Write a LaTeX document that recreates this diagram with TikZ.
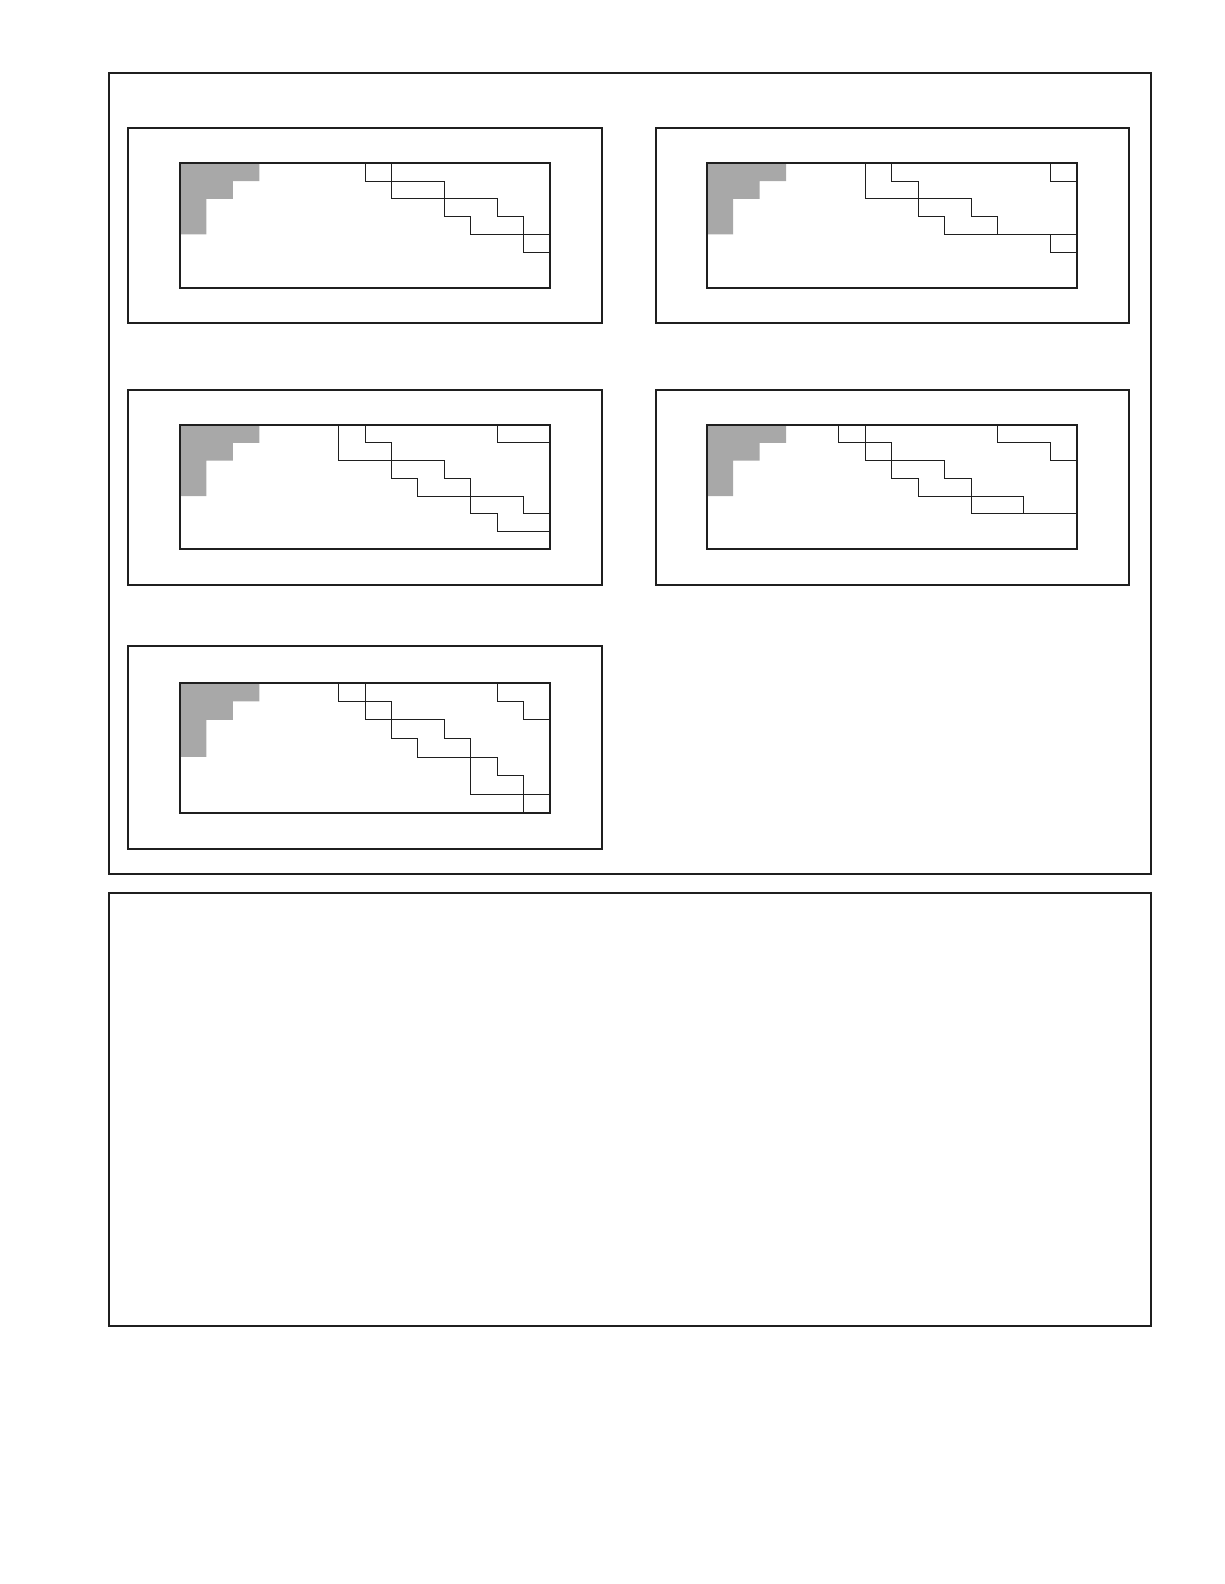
\documentclass[tikz,border=0pt]{standalone}
\begin{document}
\begin{tikzpicture}[
    x=1pt, y=-1pt,
    frame/.style={line width=2pt, draw=black!88}, % Style for the two page frames
    panel/.style={line width=1.8pt, draw=black!88}, % Style for each panel box
    grid box/.style={line width=1.8pt, draw=black!88}, % Style for the table outline
    stair/.style={line width=0.8pt, draw=black!88, line join=miter}, % Style for the staircase lines
    shade/.style={fill=gray!68, draw=none}, % Style for the shaded corner
    cell units/.style={x=26.43pt, y=-17.77pt}, % One unit = one cell
    tall cell units/.style={x=26.43pt, y=-18.57pt}
]
    \useasboundingbox (0,0) rectangle (1224,1584);

    % === Outer frames ===
    \draw[frame] (109,73) rectangle (1151,874.3);
    \draw[frame] (109,893) rectangle (1151,1325.7);

    % ====== PANEL 1 ======
    \draw[panel] (128.3,127.7) rectangle (602.3,323);
    \begin{scope}[shift={(180pt,-163.3pt)}, cell units]
        \fill[shade] (0,0) -- (3,0) -- (3,1) -- (2,1) -- (2,2) -- (1,2) -- (1,4) -- (0,4) -- cycle;
        \draw[stair] (7,0) |- (10,1) |- (11,3) |- (14,4);
        \draw[stair] (8,0) |- (12,2) |- (13,3) |- (14,5);
        \draw[grid box] (0,0) rectangle (14,7);
    \end{scope}

    % ====== PANEL 2 ======
    \draw[panel] (656,127.7) rectangle (1129,323);
    \begin{scope}[shift={(706.7pt,-163.3pt)}, cell units]
        \fill[shade] (0,0) -- (3,0) -- (3,1) -- (2,1) -- (2,2) -- (1,2) -- (1,4) -- (0,4) -- cycle;
        \draw[stair] (6,0) |- (10,2) |- (11,3) |- (14,4);
        \draw[stair] (7,0) |- (8,1) |- (9,3) |- (14,4);
        \draw[stair] (13,0) |- (14,1);
        \draw[stair] (13,4) |- (14,5);
        \draw[grid box] (0,0) rectangle (14,7);
    \end{scope}

    % ====== PANEL 3 ======
    \draw[panel] (128.3,389.7) rectangle (602.3,584.7);
    \begin{scope}[shift={(180pt,-425pt)}, cell units]
        \fill[shade] (0,0) -- (3,0) -- (3,1) -- (2,1) -- (2,2) -- (1,2) -- (1,4) -- (0,4) -- cycle;
        \draw[stair] (6,0) |- (10,2) |- (11,3) |- (12,5) |- (14,6);
        \draw[stair] (7,0) |- (8,1) |- (9,3) |- (13,4) |- (14,5);
        \draw[stair] (12,0) |- (14,1);
        \draw[grid box] (0,0) rectangle (14,7);
    \end{scope}

    % ====== PANEL 4 ======
    \draw[panel] (656,389.7) rectangle (1129,584.7);
    \begin{scope}[shift={(706.7pt,-425pt)}, cell units]
        \fill[shade] (0,0) -- (3,0) -- (3,1) -- (2,1) -- (2,2) -- (1,2) -- (1,4) -- (0,4) -- cycle;
        \draw[stair] (5,0) |- (7,1) |- (8,3) |- (12,4) |- (14,5);
        \draw[stair] (6,0) |- (9,2) |- (10,3) |- (12,5);
        \draw[stair] (11,0) |- (13,1) |- (14,2);
        \draw[grid box] (0,0) rectangle (14,7);
    \end{scope}

    % ====== PANEL 5 ======
    \draw[panel] (128.3,646) rectangle (602.3,849);
    \begin{scope}[shift={(180pt,-682.7pt)}, tall cell units]
        \fill[shade] (0,0) -- (3,0) -- (3,1) -- (2,1) -- (2,2) -- (1,2) -- (1,4) -- (0,4) -- cycle;
        \draw[stair] (6,0) |- (8,1) |- (9,3) |- (12,4) |- (13,5) -- (13,7);
        \draw[stair] (7,0) |- (10,2) |- (11,3) |- (14,6);
        \draw[stair] (12,0) |- (13,1) |- (14,2);
        \draw[grid box] (0,0) rectangle (14,7);
    \end{scope}

\end{tikzpicture}
\end{document}
